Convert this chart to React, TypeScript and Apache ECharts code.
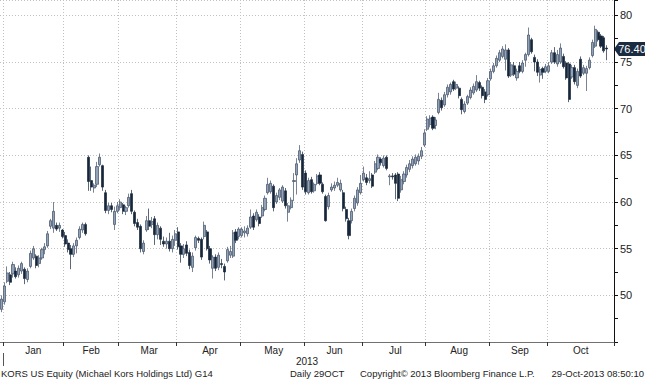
import React, { useEffect, useRef } from 'react';
import * as echarts from 'echarts';

// [open, close, low, high]
const dec2012 = [[48.5, 49.6, 48.2, 50.0]];
const jan = [
  [49.3, 51.0, 49.0, 51.4], [51.5, 52.4, 51.3, 53.1], [52.2, 51.4, 51.1, 52.5], [52.3, 53.3, 51.9, 53.6],
  [52.6, 52.0, 51.8, 53.0], [52.2, 52.9, 51.9, 53.2], [52.6, 53.4, 52.3, 53.6], [52.8, 51.8, 51.2, 53.0],
  [51.7, 52.6, 51.4, 52.9], [53.1, 54.5, 52.9, 54.8], [54.0, 55.0, 53.8, 55.3], [54.2, 53.2, 52.9, 54.4],
  [53.4, 54.0, 53.0, 54.3], [54.0, 54.9, 53.8, 55.1], [54.9, 55.2, 54.4, 55.6], [55.3, 56.6, 55.1, 56.9],
  [57.4, 58.0, 57.1, 58.2], [57.2, 59.0, 56.7, 60.0], [57.5, 57.1, 56.9, 57.8], [57.2, 57.5, 56.8, 57.8],
  [57.0, 56.3, 56.1, 57.1]
];
const feb = [
  [56.4, 55.5, 55.2, 56.8], [55.6, 54.9, 54.6, 56.0], [55.0, 54.4, 52.8, 55.4], [54.4, 55.3, 54.1, 55.6],
  [55.3, 55.9, 54.5, 56.2], [56.2, 57.1, 56.0, 57.4], [57.0, 57.6, 56.7, 57.8], [57.6, 56.6, 56.4, 57.8],
  [64.8, 62.2, 61.2, 65.0], [62.3, 61.6, 61.2, 63.8], [61.5, 61.8, 61.0, 62.0], [61.9, 63.8, 61.6, 64.3],
  [64.0, 64.8, 63.8, 65.2], [63.9, 61.6, 61.2, 64.0], [61.0, 59.1, 58.8, 61.3], [59.1, 59.6, 58.7, 59.9],
  [59.6, 59.2, 58.9, 59.9], [57.6, 59.0, 57.0, 59.5], [59.0, 59.6, 58.8, 60.0]
];
const mar = [
  [59.4, 60.0, 59.1, 60.3], [59.7, 59.0, 58.7, 59.9], [59.0, 59.4, 58.6, 59.6], [59.6, 60.5, 59.4, 60.9],
  [60.9, 59.0, 58.7, 61.3], [58.9, 57.7, 57.4, 59.1], [57.8, 57.3, 57.0, 58.2], [57.4, 55.0, 54.6, 57.6],
  [54.7, 55.6, 54.4, 55.9], [57.0, 58.0, 56.8, 58.5], [58.0, 57.4, 57.0, 59.3], [57.6, 57.9, 57.2, 58.4],
  [58.2, 56.5, 55.4, 58.5], [56.5, 57.5, 56.0, 57.8], [57.2, 56.0, 55.4, 57.4], [55.8, 55.5, 55.2, 56.3],
  [55.5, 55.8, 55.0, 56.2], [55.8, 55.0, 54.7, 56.7], [55.0, 56.0, 54.6, 56.4], [55.9, 56.6, 55.3, 57.0]
];
const apr = [
  [56.8, 55.2, 54.9, 57.3], [55.3, 54.4, 53.5, 55.6], [54.4, 55.0, 54.0, 55.5], [55.4, 54.5, 54.2, 55.8],
  [54.6, 53.2, 52.8, 54.9], [53.0, 54.2, 52.5, 54.6], [55.1, 56.2, 54.8, 56.4], [56.1, 55.9, 55.6, 56.3],
  [56.0, 54.1, 53.8, 56.2], [56.3, 57.5, 56.0, 57.9], [56.8, 55.0, 54.8, 57.0], [55.0, 53.8, 53.4, 55.3],
  [52.9, 54.1, 51.8, 54.3], [54.1, 52.9, 52.6, 54.4], [53.0, 54.3, 52.7, 54.6], [53.4, 53.3, 52.9, 53.9],
  [53.1, 52.5, 51.6, 53.4], [53.7, 54.9, 53.5, 55.2], [54.3, 54.7, 54.0, 55.3], [54.2, 56.7, 54.0, 57.0],
  [56.8, 55.9, 55.6, 57.1], [56.3, 57.1, 56.0, 57.3]
];
const may = [
  [56.4, 57.1, 56.2, 57.3], [56.7, 56.9, 56.2, 57.4], [56.6, 57.2, 56.3, 57.5], [57.3, 58.4, 57.1, 59.2],
  [58.5, 57.3, 57.0, 58.8], [58.1, 58.9, 57.9, 59.2], [58.4, 57.7, 57.4, 58.7], [58.5, 59.4, 58.3, 59.7],
  [59.2, 60.4, 59.0, 60.7], [61.0, 61.9, 60.8, 62.6], [61.1, 62.0, 60.9, 62.3], [61.7, 59.4, 59.0, 61.9],
  [60.0, 60.7, 59.8, 61.0], [60.5, 61.3, 60.2, 61.5], [60.1, 61.6, 59.9, 61.8], [61.2, 59.6, 59.3, 61.5],
  [58.9, 59.6, 57.9, 59.9], [59.4, 60.2, 59.2, 60.5], [62.2, 62.3, 60.1, 63.1], [62.9, 64.1, 60.8, 64.7],
  [64.5, 65.5, 64.2, 66.1], [65.1, 61.6, 61.3, 65.4]
];
const jun = [
  [63.1, 61.1, 60.8, 63.4], [61.0, 62.3, 60.8, 62.6], [62.4, 61.1, 60.9, 62.7], [61.2, 61.9, 61.0, 62.1],
  [62.0, 62.8, 61.8, 63.0], [62.9, 62.0, 61.8, 63.2], [61.9, 61.1, 60.9, 62.1], [60.6, 58.0, 57.9, 60.8],
  [59.5, 60.7, 59.2, 61.0], [61.3, 61.6, 61.1, 62.0], [61.5, 61.8, 61.2, 62.2], [61.8, 62.1, 61.6, 62.6],
  [61.3, 62.0, 61.1, 62.4], [61.0, 59.3, 59.0, 61.3], [59.2, 58.2, 57.9, 59.5], [58.0, 56.4, 56.0, 58.3],
  [58.0, 59.0, 57.7, 59.3], [59.3, 60.4, 59.0, 60.7], [59.9, 61.3, 59.6, 61.6], [61.0, 62.0, 60.8, 62.9]
];
const jul = [
  [62.4, 63.1, 62.2, 63.8], [62.6, 62.1, 61.8, 63.0], [62.3, 62.5, 62.0, 63.3], [62.9, 61.7, 61.5, 63.1],
  [63.2, 64.1, 63.0, 64.4], [63.6, 64.8, 63.4, 65.1], [64.6, 64.2, 63.9, 64.8], [63.9, 64.7, 63.7, 65.0],
  [64.8, 63.6, 63.4, 65.0], [62.7, 62.8, 61.8, 63.0], [62.8, 62.7, 62.4, 63.1], [62.9, 62.0, 60.3, 63.1],
  [63.0, 60.4, 60.1, 63.2], [61.3, 62.4, 61.0, 62.8], [62.2, 63.0, 61.9, 63.3], [62.9, 63.7, 62.6, 64.0],
  [63.5, 64.1, 63.2, 64.5], [63.9, 64.6, 63.6, 64.9], [64.1, 64.8, 63.9, 65.1], [64.4, 64.9, 64.0, 65.2],
  [64.9, 65.5, 64.6, 65.9], [66.1, 67.4, 65.9, 67.8]
];
const aug = [
  [67.8, 68.9, 67.6, 69.2], [68.3, 69.0, 68.0, 69.3], [69.1, 67.9, 67.7, 69.3], [68.2, 68.8, 67.8, 69.1],
  [69.6, 71.0, 69.4, 71.7], [70.9, 70.1, 69.8, 71.2], [70.4, 71.5, 70.2, 71.8], [71.5, 72.3, 71.2, 72.6],
  [71.8, 72.6, 71.5, 72.8], [72.9, 72.1, 71.9, 73.1], [72.2, 72.6, 72.0, 72.9], [72.2, 71.4, 71.1, 72.4],
  [71.0, 69.9, 69.4, 71.2], [69.7, 70.5, 69.5, 70.8], [70.6, 71.3, 70.4, 71.5], [71.2, 72.0, 71.0, 72.3],
  [71.7, 72.4, 71.5, 72.7], [72.0, 72.9, 71.8, 73.6], [72.8, 72.2, 71.9, 73.0], [72.3, 71.4, 71.1, 72.5],
  [71.8, 71.0, 70.6, 72.1], [71.5, 73.0, 71.3, 73.3]
];
const sep = [
  [73.2, 74.0, 73.0, 74.3], [74.0, 74.6, 73.8, 74.9], [74.6, 75.4, 74.4, 75.7], [75.2, 76.0, 75.0, 76.3],
  [75.6, 76.4, 75.4, 76.7], [75.3, 76.3, 74.1, 76.9], [76.3, 73.5, 73.3, 76.5], [73.6, 74.7, 73.4, 75.0],
  [74.6, 73.7, 73.5, 75.0], [73.3, 74.0, 73.0, 74.3], [74.6, 74.0, 73.8, 75.0], [74.0, 74.9, 73.8, 75.2],
  [75.2, 75.8, 74.5, 76.0], [75.8, 77.9, 75.6, 78.7], [77.4, 76.1, 75.9, 77.6], [75.5, 75.0, 74.0, 75.8],
  [75.0, 73.9, 73.5, 75.3], [73.6, 74.2, 72.8, 74.5], [74.3, 73.9, 73.2, 74.5], [74.0, 74.5, 73.8, 74.8]
];
const oct = [
  [74.0, 74.6, 73.8, 75.0], [75.0, 76.0, 74.8, 76.3], [76.0, 75.0, 74.8, 76.6], [74.8, 75.8, 74.5, 76.3],
  [75.0, 76.5, 74.8, 77.0], [75.6, 74.5, 74.3, 75.9], [74.9, 73.3, 73.1, 75.1], [74.8, 71.0, 70.7, 75.0],
  [73.4, 74.4, 73.2, 74.7], [74.4, 72.9, 72.6, 74.7], [72.5, 74.0, 72.2, 74.3], [75.3, 73.5, 73.3, 75.6],
  [73.8, 74.4, 73.6, 74.7], [73.8, 74.3, 71.9, 74.6], [74.4, 75.2, 74.2, 75.5], [75.7, 77.1, 75.5, 77.4],
  [76.7, 78.5, 76.5, 78.9], [78.2, 77.4, 77.2, 78.4], [77.8, 76.7, 76.5, 78.0], [77.6, 76.2, 76.0, 77.8],
  [76.5, 76.4, 75.2, 76.8]
];

const lastPrice = 76.4;
const monthNames = ['Jan', 'Feb', 'Mar', 'Apr', 'May', 'Jun', 'Jul', 'Aug', 'Sep', 'Oct', 'Nov', 'Dec'];
const holidays = ['2013-01-01', '2013-01-21', '2013-02-18', '2013-03-29', '2013-05-27', '2013-07-04', '2013-09-02'];
const yTickValues = [50, 55, 60, 65, 70, 75, 80];

function buildDates(): string[] {
  const out = ['2012-12-31'];
  const d = new Date(Date.UTC(2013, 0, 1));
  const end = Date.UTC(2013, 9, 31);
  while (d.getTime() <= end) {
    const wd = d.getUTCDay();
    const s = d.toISOString().slice(0, 10);
    if (wd !== 0 && wd !== 6 && holidays.indexOf(s) < 0) out.push(s);
    d.setUTCDate(d.getUTCDate() + 1);
  }
  return out;
}

const FONT = 'Liberation Sans, Arial, sans-serif';

export default function App() {
  const ref = useRef<HTMLDivElement>(null);
  useEffect(() => {
    if (!ref.current) return;
    const chart = echarts.init(ref.current, null, { renderer: 'svg' });
    const dates = buildDates();
    const candles = [...dec2012, ...jan, ...feb, ...mar, ...apr, ...may, ...jun, ...jul, ...aug, ...sep, ...oct];

    const monthStart = new Set<number>();
    const monthMid = new Set<number>();
    let curM = -1;
    let first = 0;
    const flush = (endIdx: number) => {
      if (curM >= 0 && dates[first].slice(0, 4) === '2013') {
        const count = endIdx - first;
        monthMid.add(first + Math.floor(count / 2));
      }
    };
    dates.forEach((s, i) => {
      const m = +s.slice(5, 7);
      if (m !== curM) {
        flush(i);
        curM = m;
        first = i;
        if (s.slice(0, 4) === '2013') monthStart.add(i);
      }
    });
    flush(dates.length);

    const yMin = 45;
    const yMax = 81.65;

    chart.setOption({
      animation: false,
      backgroundColor: '#ffffff',
      grid: { left: 0, right: 31, top: 0, bottom: 38, containLabel: false },
      xAxis: {
        type: 'category',
        data: dates,
        boundaryGap: true,
        axisLine: { show: true, lineStyle: { color: '#707070', width: 1 } },
        axisTick: { show: true, interval: (i: number) => monthStart.has(i), length: 4, lineStyle: { color: '#333' } },
        axisLabel: {
          interval: (i: number) => monthMid.has(i),
          formatter: (v: string) => monthNames[+v.slice(5, 7) - 1],
          color: '#222', fontSize: 10, fontFamily: FONT, margin: 3,
        },
        splitLine: { show: true, interval: (i: number) => monthStart.has(i), lineStyle: { color: '#c2c2c2', type: [1, 2], width: 1 } },
      },
      yAxis: [
        {
          type: 'value', position: 'right', min: yMin, max: yMax, interval: 2.5,
          axisLine: { show: true, lineStyle: { color: '#111', width: 1 } },
          axisTick: { show: true, length: 4, inside: false, lineStyle: { color: '#111' } },
          axisLabel: {
            color: '#222', fontSize: 11, fontFamily: FONT, margin: 6,
            formatter: (v: number) => (yTickValues.indexOf(Math.round(v * 100) / 100) >= 0 ? String(v) : ''),
          },
          splitLine: { show: false },
        },
        {
          type: 'value', position: 'right', min: yMin, max: yMax, interval: 5,
          axisLine: { show: false }, axisTick: { show: false }, axisLabel: { show: false },
          splitLine: { show: true, lineStyle: { color: '#c2c2c2', type: [1, 2], width: 1 } },
        },
      ],
      series: [
        {
          type: 'candlestick',
          data: candles,
          yAxisIndex: 0,
          barWidth: 2.6,
          itemStyle: {
            color: '#93a3b7', color0: '#16273c',
            borderColor: '#3d4e64', borderColor0: '#16273c', borderWidth: 0.7,
          },
        },
      ],
    });

    const py = chart.convertToPixel({ yAxisIndex: 0 }, lastPrice) as number;
    const small = `9.5px ${FONT}`;
    chart.setOption({
      graphic: [
        {
          type: 'polygon',
          shape: { points: [[614, py], [619, py - 7], [645, py - 7], [645, py + 7], [619, py + 7]] },
          style: { fill: '#1b2c42' },
        },
        {
          type: 'text', x: 632, y: py,
          style: { text: lastPrice.toFixed(2), fill: '#ffffff', font: `11px ${FONT}`, textAlign: 'center', textVerticalAlign: 'middle' },
        },
        { type: 'line', shape: { x1: 3.5, y1: 353, x2: 3.5, y2: 366 }, style: { stroke: '#555', lineWidth: 1 } },
        {
          type: 'text', x: 307, y: 361,
          style: { text: '2013', fill: '#222', font: `10px ${FONT}`, textAlign: 'center', textVerticalAlign: 'middle' },
        },
        {
          type: 'text', x: 1, y: 373,
          style: { text: 'KORS US Equity (Michael Kors Holdings Ltd) G14', fill: '#222', font: small, textAlign: 'left', textVerticalAlign: 'middle' },
        },
        {
          type: 'text', x: 290, y: 373,
          style: { text: 'Daily 29OCT', fill: '#222', font: small, textAlign: 'left', textVerticalAlign: 'middle' },
        },
        {
          type: 'text', x: 360, y: 373,
          style: { text: 'Copyright\u00a9 2013 Bloomberg Finance L.P.', fill: '#222', font: small, textAlign: 'left', textVerticalAlign: 'middle' },
        },
        {
          type: 'text', x: 644, y: 373,
          style: { text: '29-Oct-2013 08:50:10', fill: '#222', font: small, textAlign: 'right', textVerticalAlign: 'middle' },
        },
      ],
    });

    return () => chart.dispose();
  }, []);
  return <div ref={ref} style={{ width: 645, height: 380, position: 'absolute', left: 0, top: 0 }} />;
}
